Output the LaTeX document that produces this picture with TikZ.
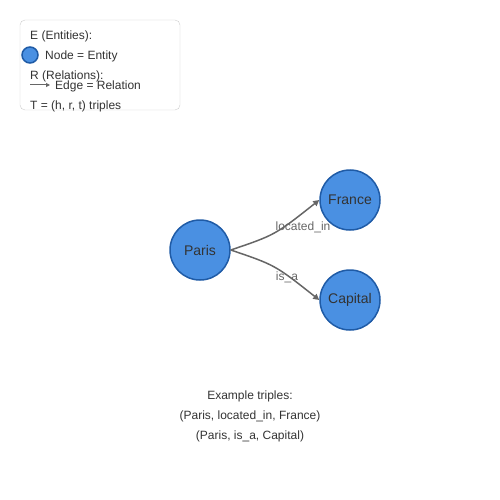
\documentclass[tikz,border=0pt]{standalone}
\usepackage{fontspec}
\setmainfont{Liberation Sans}
\usetikzlibrary{arrows.meta}
\definecolor{entfill}{HTML}{4A90E2}
\definecolor{entline}{HTML}{1F5BA6}
\definecolor{reltext}{HTML}{666666}
\definecolor{deftext}{HTML}{333333}
\definecolor{boxline}{HTML}{CCCCCC}
\begin{document}
\begin{tikzpicture}[x=1pt,y=-1pt,
    entity/.style={circle,draw=entline,fill=entfill,line width=1.5pt,minimum size=60pt,inner sep=0pt,text=deftext,font=\fontsize{14}{16}\selectfont},
    relation/.style={draw=reltext,line width=1.5pt,-{Triangle[length=6pt,width=6pt]}},
    rellabel/.style={text=reltext,font=\fontsize{12}{14}\selectfont,yshift=-1pt},
    legtext/.style={text=deftext,font=\fontsize{12}{14}\selectfont,anchor=west,inner sep=0pt,yshift=-1.5pt}]
                \useasboundingbox (0,0) rectangle (500,500);
                % legend
                \draw[boxline,rounded corners=5pt,fill=white] (20,20) rectangle (180,110);
                \node[legtext] (legE) at (30,35) {E (Entities):};
                \node[circle,draw=entline,fill=entfill,line width=1.5pt,minimum size=16pt,inner sep=0pt] (legnode) at (30,55) {};
                \node[legtext] (legnodetxt) at (45,55) {Node = Entity};
                \node[legtext] (legR) at (30,75) {R (Relations):};
                \coordinate (legedgeA) at (30,85);
                \coordinate (legedgeB) at (50,85);
                \draw[reltext,line width=1pt,-{Triangle[length=4pt,width=4pt]}] (legedgeA) -- (legedgeB);
                \node[legtext] (legedgetxt) at (55,85) {Edge = Relation};
                \node[legtext] (legT) at (30,105) {T = (h, r, t) triples};
                % graph
                \node[entity] (Paris) at (200,250) {Paris};
                \node[entity] (France) at (350,200) {France};
                \node[entity] (Capital) at (350,300) {Capital};
                \draw[relation] (Paris.east) .. controls (275,235) .. (France.west);
                \draw[relation] (Paris.east) .. controls (275,265) .. (Capital.west);
                \node[rellabel] (locin) at (303,226) {located\_in};
                \node[rellabel] (isa) at (287,276) {is\_a};
                % triples
                \node[legtext,anchor=center] (ex0) at (250,395) {Example triples:};
                \node[legtext,anchor=center] (ex1) at (250,415) {(Paris, located\_in, France)};
                \node[legtext,anchor=center] (ex2) at (250,435) {(Paris, is\_a, Capital)};
            \end{tikzpicture}
\end{document}
